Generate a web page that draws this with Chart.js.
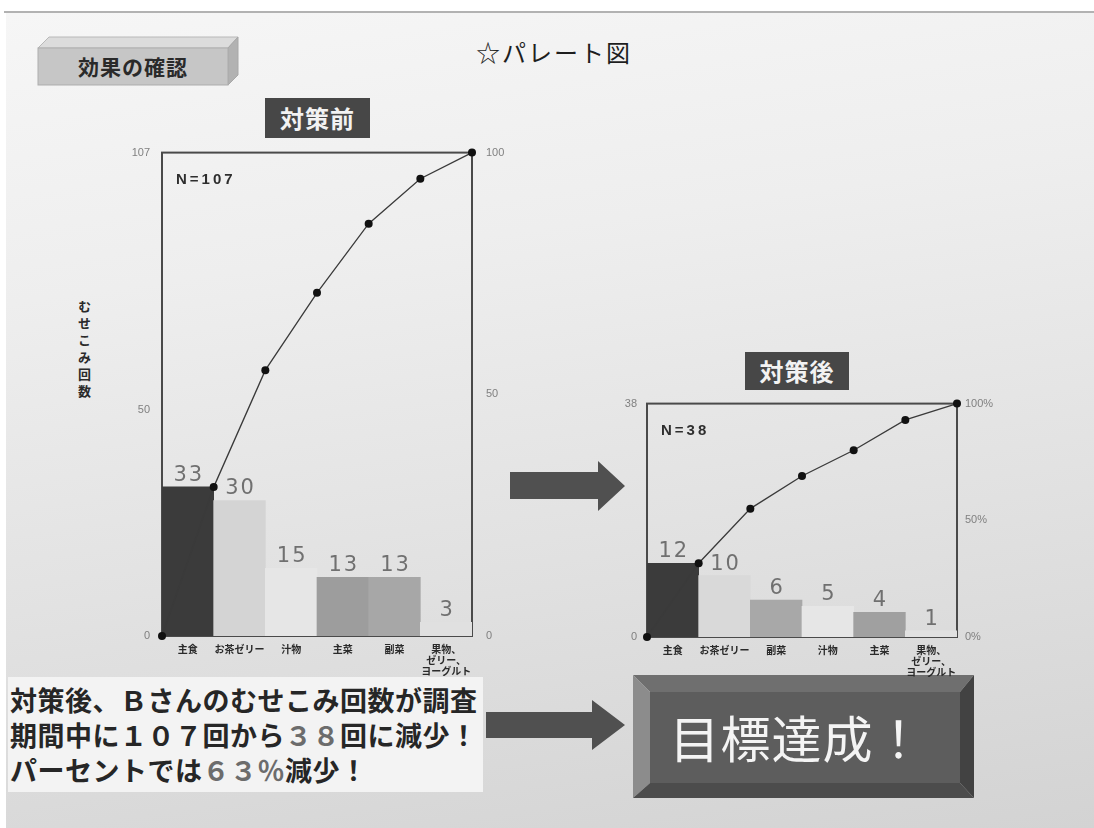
<!DOCTYPE html>
<html lang="ja">
<head>
<meta charset="utf-8">
<title>パレート図 対策前・対策後</title>
<script src="https://cdn.jsdelivr.net/npm/chart.js@4.4.1/dist/chart.umd.min.js"></script>
<style>
  html, body { margin: 0; padding: 0; width: 1094px; height: 828px; overflow: hidden; background: #fff;
    font-family: "Noto Sans CJK JP", "Noto Sans", sans-serif; }
  .abs { position: absolute; }
  #rule { left: 4px; top: 11px; width: 1090px; height: 2px; background: #b2b2b2; }
  #slide { left: 6px; top: 13px; width: 1088px; height: 815px;
    background: linear-gradient(172deg, #f6f6f6 0%, #eeeeee 30%, #e2e2e2 62%, #d3d3d3 100%); }
  #title { left: 476px; top: 38px; font-size: 24px; letter-spacing: 2px; color: #1e1e1e; line-height: 1.2; white-space: nowrap; }
  .tag { background: #474747; color: #f2f2f2; font-size: 24px; font-weight: bold; text-align: center; letter-spacing: 1px; }
  #tagBefore { left: 265px; top: 98px; width: 105px; height: 40px; line-height: 40px; }
  #tagAfter { left: 745px; top: 352px; width: 104px; height: 38px; line-height: 38px; }
  #ytitle { left: 75px; top: 300px; writing-mode: vertical-rl; font-size: 13px; font-weight: bold;
    letter-spacing: 4px; color: #2a2a2a; }
  #summary { left: 8px; top: 677px; width: 475px; height: 115px; background: #f3f3f3;
    font-size: 27px; font-weight: bold; line-height: 35px; color: #262626; padding: 5px 0 0 2px;
    box-sizing: border-box; white-space: nowrap; letter-spacing: 0.5px; }
  #summary .hl { color: #6c6c6c; }
  canvas { position: absolute; }
  #chartBefore { left: 100px; top: 132px; z-index: 2; }
  #chartAfter { left: 590px; top: 387px; z-index: 2; }
  svg { position: absolute; left: 0; top: 0; }
</style>
</head>
<body>
<div id="rule" class="abs"></div>
<div id="slide" class="abs"></div>

<svg width="1094" height="828" viewBox="0 0 1094 828">
  <!-- 「効果の確認」立体ラベル -->
  <polygon points="38,48 49,37 238,37 228,48" fill="#dcdcdc" stroke="#b8b8b8" stroke-width="1"/>
  <polygon points="228,48 238,37 238,75 228,85" fill="#b2b2b2" stroke="#a8a8a8" stroke-width="1"/>
  <rect x="38" y="48" width="190" height="37" fill="#c6c6c6" stroke="#adadad" stroke-width="1"/>
  <text x="133" y="75" text-anchor="middle" font-family="Noto Sans CJK JP" font-size="21" font-weight="bold" fill="#2a2a2a" letter-spacing="1">効果の確認</text>

  <!-- 中央の矢印 -->
  <polygon points="510,472 598,472 598,461 625,486 598,511 598,499 510,499" fill="#505050"/>
  <!-- 下段の矢印 -->
  <polygon points="486,712 592,712 592,700 625,725 592,750 592,738 486,738" fill="#505050"/>

  <!-- 「目標達成！」ボタン -->
  <polygon points="633,675 974,675 960,692 650,692" fill="#6f6f6f"/>
  <polygon points="633,675 650,692 650,783 633,798" fill="#8c8c8c"/>
  <polygon points="633,798 650,783 960,783 974,798" fill="#4c4c4c"/>
  <polygon points="974,675 974,798 960,783 960,692" fill="#424242"/>
  <rect x="650" y="692" width="310" height="91" fill="#5d5d5d"/>
  <text x="797" y="758" text-anchor="middle" font-family="Noto Sans CJK JP" font-size="50" fill="#f4f4f4" letter-spacing="1">目標達成！</text>
</svg>

<div id="title" class="abs">☆パレート図</div>
<div id="tagBefore" class="abs tag">対策前</div>
<div id="tagAfter" class="abs tag">対策後</div>
<div id="ytitle" class="abs">むせこみ回数</div>
<div id="summary" class="abs">対策後、Ｂさんのむせこみ回数が調査<br>期間中に１０７回から<span class="hl">３８</span>回に減少！<br>パーセントでは<span class="hl">６３％</span>減少！</div>

<canvas id="chartBefore" width="420" height="544"></canvas>
<canvas id="chartAfter" width="430" height="290"></canvas>

<script>
// ---- 対策前 ----
const categoriesBefore = ['主食', 'お茶ゼリー', '汁物', '主菜', '副菜', ['果物、', 'ゼリー、', 'ヨーグルト']];
const countsBefore = [33, 30, 15, 13, 13, 3];
const cumulativePctBefore = [0, 30.8, 55, 71, 85.3, 94.6, 100];
const totalBefore = 107;
const leftTicksBefore = [0, 50, 107];
const rightTicksBefore = [0, 50, 100];
const rightTickSuffixBefore = '';

// ---- 対策後 ----
const categoriesAfter = ['主食', 'お茶ゼリー', '副菜', '汁物', '主菜', ['果物、', 'ゼリー、', 'ヨーグルト']];
const countsAfter = [12, 10, 6, 5, 4, 1];
const cumulativePctAfter = [0, 31.6, 55, 69, 80, 93, 100];
const totalAfter = 38;
const leftTicksAfter = [0, 38];
const rightTicksAfter = [0, 50, 100];
const rightTickSuffixAfter = '%';

// 棒の塗り（項目ごと）
const barColorsBefore = ['#3b3b3b', '#d4d4d4', '#e6e6e6', '#9d9d9d', '#a7a7a7', '#e0e0e0'];
const barColorsAfter = ['#3b3b3b', '#d9d9d9', '#a8a8a8', '#e6e6e6', '#a0a0a0', '#e1e1e1'];

const tickFont = { family: 'Liberation Sans', size: 11 };
const catFont = { family: 'Noto Sans CJK JP', size: 10, weight: 'bold', lineHeight: 1.1 };

// プロット領域の枠線
const framePlugin = {
  id: 'frame',
  beforeDatasetsDraw(chart) {
    const a = chart.chartArea, ctx = chart.ctx;
    ctx.save();
    ctx.strokeStyle = '#4a4a4a';
    ctx.lineWidth = 2;
    ctx.strokeRect(a.left, a.top, a.right - a.left, a.bottom - a.top);
    ctx.restore();
  }
};

// 棒の上の件数ラベルと N 表示
const labelPlugin = {
  id: 'valueLabels',
  afterDatasetsDraw(chart, args, opts) {
    const ctx = chart.ctx;
    const meta = chart.getDatasetMeta(1);
    const values = chart.data.datasets[1].data;
    ctx.save();
    ctx.font = '21px "DejaVu Sans"';
    ctx.textAlign = 'center';
    ctx.textBaseline = 'alphabetic';
    ctx.letterSpacing = '2px';
    ctx.fillStyle = '#707070';
    meta.data.forEach((bar, i) => {
      ctx.fillText(String(values[i]), bar.x + 1, bar.y - 6);
    });
    ctx.letterSpacing = '3px';
    ctx.font = 'bold 15px "Liberation Sans"';
    ctx.textAlign = 'left';
    ctx.fillStyle = '#2e2e2e';
    ctx.fillText(opts.nText, chart.chartArea.left + 14, chart.chartArea.top + 31);
    ctx.restore();
  }
};

function makePareto(id, o) {
  return new Chart(document.getElementById(id), {
    type: 'bar',
    data: {
      labels: o.categories,
      datasets: [
        {
          type: 'line',
          data: o.cumulative.map((v, i) => ({ x: i, y: v })),
          xAxisID: 'xc', yAxisID: 'yp',
          borderColor: '#3a3a3a', borderWidth: 1.3,
          pointRadius: 4, pointBackgroundColor: '#111', pointBorderWidth: 0,
          tension: 0, order: 0, clip: false
        },
        {
          data: o.counts,
          backgroundColor: o.colors,
          borderWidth: 0,
          grouped: false,
          barPercentage: 1, categoryPercentage: 1,
          xAxisID: 'x', yAxisID: 'y', order: 1
        }
      ]
    },
    options: {
      responsive: false,
      animation: false,
      layout: { autoPadding: false, padding: { top: o.padTop, left: 0, right: 0, bottom: 0 } },
      plugins: {
        legend: { display: false },
        tooltip: { enabled: false },
        valueLabels: { nText: o.nText }
      },
      scales: {
        x: {
          type: 'category', offset: true,
          grid: { display: false, drawTicks: false }, border: { display: false },
          ticks: { font: catFont, color: '#2a2a2a', padding: 8, maxRotation: 0, autoSkip: false },
          afterFit(s) { s.height = 40; }
        },
        // 累積線の点を棒の境目に置くための横軸
        xc: { type: 'linear', display: false, offset: false, grid: { offset: false },
              min: 0, max: o.counts.length },
        y: {
          position: 'left', min: 0, max: o.total,
          afterBuildTicks(s) { s.ticks = o.leftTicks.map(v => ({ value: v })); },
          grid: { display: false, drawTicks: false }, border: { display: false },
          ticks: { font: tickFont, color: '#808080', padding: o.leftPad },
          afterFit(s) { s.width = o.leftW; }
        },
        yp: {
          position: 'right', min: 0, max: 100,
          afterBuildTicks(s) { s.ticks = o.rightTicks.map(v => ({ value: v })); },
          grid: { display: false, drawTicks: false }, border: { display: false },
          ticks: { font: tickFont, color: '#808080', padding: o.rightPad,
                   callback: v => v + o.suffix },
          afterFit(s) { s.width = o.rightW; }
        }
      }
    },
    plugins: [framePlugin, labelPlugin]
  });
}

makePareto('chartBefore', {
  categories: categoriesBefore, counts: countsBefore, cumulative: cumulativePctBefore,
  total: totalBefore, leftTicks: leftTicksBefore, rightTicks: rightTicksBefore,
  suffix: rightTickSuffixBefore, colors: barColorsBefore, nText: 'N=107',
  padTop: 12, leftW: 62, rightW: 48, leftPad: 12, rightPad: 14
});

makePareto('chartAfter', {
  categories: categoriesAfter, counts: countsAfter, cumulative: cumulativePctAfter,
  total: totalAfter, leftTicks: leftTicksAfter, rightTicks: rightTicksAfter,
  suffix: rightTickSuffixAfter, colors: barColorsAfter, nText: 'N=38',
  padTop: 13, leftW: 57, rightW: 63, leftPad: 10, rightPad: 8
});
</script>
</body>
</html>
